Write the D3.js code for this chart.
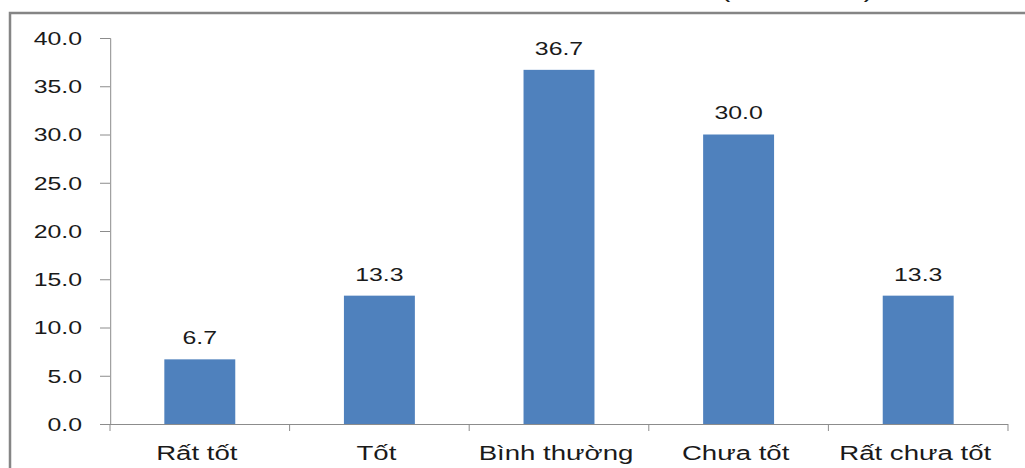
<!DOCTYPE html>
<html>
<head>
<meta charset="utf-8">
<script src="https://cdn.jsdelivr.net/npm/d3@7"></script>
<style>
  html, body { margin: 0; padding: 0; background: #fff; overflow: hidden; }
  svg { display: block; }
  text { font-family: "Liberation Sans", Arial, sans-serif; fill: #1a1a1a; }
</style>
</head>
<body>
<div id="chart"></div>
<script>
// Survey results (%)
const categories = ["Rất tốt", "Tốt", "Bình thường", "Chưa tốt", "Rất chưa tốt"];
const values = [6.7, 13.3, 36.7, 30.0, 13.3];
const yTicks = [0, 5, 10, 15, 20, 25, 30, 35, 40];

const W = 1025, H = 468;
// the chart is drawn in a narrower coordinate space and stretched to full width
const SX = 1.38;
const VW = W / SX;
const px = v => v / SX; // screen pixels -> horizontal view units

const svg = d3.select("#chart").append("svg")
  .attr("width", W).attr("height", H)
  .attr("viewBox", `0 0 ${VW} ${H}`)
  .attr("preserveAspectRatio", "none");

const plotLeft = px(110), plotRight = px(1008);
const y = d3.scaleLinear().domain([0, 40]).range([424, 38]);
const x = d3.scaleBand().domain(categories)
  .range([plotLeft, plotRight])
  .paddingInner(0.605).paddingOuter(0.3025);

// outer frame
svg.append("path")
  .attr("d", `M${px(10)},${H + 5} L${px(10)},13 L${VW + 5},13`)
  .attr("fill", "none").attr("stroke", "#858585").attr("stroke-width", 2.5)
  .attr("vector-effect", "non-scaling-stroke");

// heading, mostly above the top edge
svg.append("text")
  .attr("x", px(721)).attr("y", -2.5)
  .attr("textLength", px(152)).attr("lengthAdjust", "spacing")
  .attr("font-size", 20)
  .text("(Tính theo %)");

// bars
svg.append("g").selectAll("rect")
  .data(values)
  .join("rect")
  .attr("x", (d, i) => x(categories[i]))
  .attr("width", x.bandwidth())
  .attr("y", d => y(d))
  .attr("height", d => y(0) - y(d))
  .attr("fill", "#4F81BD");

// value labels
svg.append("g").selectAll("text")
  .data(values)
  .join("text")
  .attr("x", (d, i) => x(categories[i]) + x.bandwidth() / 2)
  .attr("y", d => y(d) - 15)
  .attr("text-anchor", "middle")
  .attr("font-size", 18)
  .text(d => d.toFixed(1));

// y axis
const yAxis = svg.append("g")
  .attr("transform", `translate(${plotLeft},0)`)
  .call(d3.axisLeft(y).tickValues(yTicks).tickFormat(d => d.toFixed(1))
    .tickSize(px(10)).tickPadding(px(18)));
yAxis.select(".domain").attr("stroke", "#8c8c8c").attr("vector-effect", "non-scaling-stroke");
yAxis.selectAll(".tick line").attr("stroke", "#8c8c8c").attr("vector-effect", "non-scaling-stroke");
yAxis.selectAll(".tick text").attr("font-size", 18).attr("font-family", "Liberation Sans, Arial, sans-serif")
  .attr("fill", "#1a1a1a").attr("dy", "0.36em");

// x axis: labels centred under bars, ticks between categories
const xAxis = svg.append("g")
  .attr("transform", `translate(0,${y(0)})`)
  .call(d3.axisBottom(x).tickSize(0).tickPadding(22));
xAxis.select(".domain").attr("stroke", "#8c8c8c").attr("vector-effect", "non-scaling-stroke")
  .attr("d", `M${plotLeft},0.5H${plotRight}`);
xAxis.selectAll(".tick text").attr("font-size", 20).attr("font-family", "Liberation Sans, Arial, sans-serif")
  .attr("fill", "#1a1a1a").attr("dx", px(-3));

const bounds = d3.range(categories.length + 1).map(i => plotLeft + i * x.step());
xAxis.selectAll("line.sep")
  .data(bounds)
  .join("line")
  .attr("class", "sep")
  .attr("x1", d => d).attr("x2", d => d)
  .attr("y1", 0).attr("y2", 7)
  .attr("stroke", "#8c8c8c")
  .attr("vector-effect", "non-scaling-stroke");
</script>
</body>
</html>
